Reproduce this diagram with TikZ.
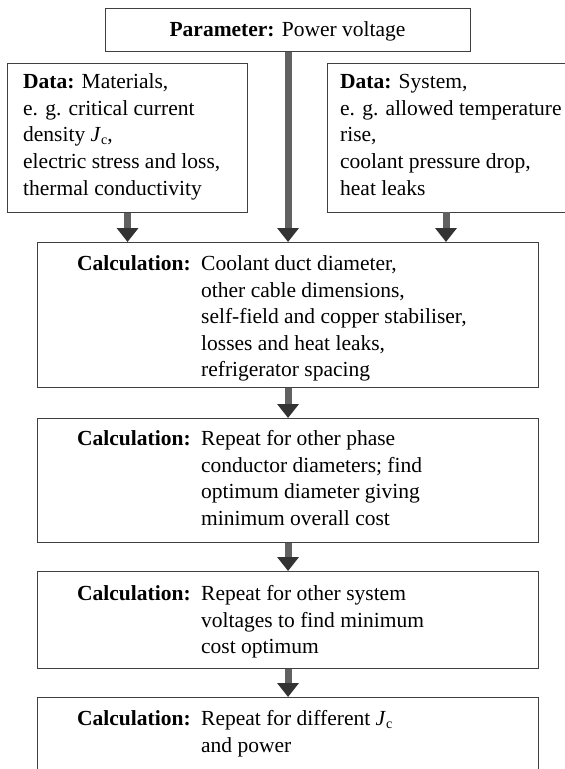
\documentclass[tikz,border=0pt]{standalone}
\usepackage{fontspec}
\setmainfont{Liberation Serif}
\usetikzlibrary{arrows.meta}
\newcommand\Jsub{\textit{J}\raisebox{-0.35ex}{\fontsize{14}{14}\selectfont c}}
\begin{document}
\begin{tikzpicture}[x=1pt,y=-1pt,
  box/.style={draw=black!75, line width=1.1pt, rectangle, inner sep=0pt, anchor=north west},
  txt/.style={anchor=base west, inner sep=0pt, font=\fontsize{21.5}{26.7}\selectfont},
  flow/.style={line width=7pt, draw=black!62, -{Triangle[width=21pt,length=14pt,color=black!80]}}
]
\useasboundingbox (0,0) rectangle (565,769);
\fill[white] (0,0) rectangle (565,769);
\begin{scope}
\clip (0,0) rectangle (565,769);
% boxes
\node[box, minimum width=365pt, minimum height=43pt] (par) at (105,8) {};
\node[box, minimum width=240pt, minimum height=149pt] (dl) at (7,63) {};
\node[box, minimum width=260pt, minimum height=149pt] (dr) at (327,63) {};
\node[box, minimum width=501pt, minimum height=145pt] (c1) at (37,242) {};
\node[box, minimum width=501pt, minimum height=124pt] (c2) at (37,418) {};
\node[box, minimum width=501pt, minimum height=97pt] (c3) at (37,571) {};
\node[box, minimum width=501pt, minimum height=100pt] (c4) at (37,697) {};
% texts
\node[txt, anchor=base] (ptxt) at (287.5,36.5) {\textbf{Parameter:} Power voltage};

\node[txt] (dl1) at (23,88) {\textbf{Data:} Materials,};
\node[txt] (dl2) at (23,115) {e. g. critical current};
\node[txt] (dl3) at (23,141) {density \Jsub,};
\node[txt] (dl4) at (23,168) {electric stress and loss,};
\node[txt] (dl5) at (23,195) {thermal conductivity};

\node[txt] (dr1) at (340,88) {\textbf{Data:} System,};
\node[txt] (dr2) at (340,115) {e. g. allowed temperature};
\node[txt] (dr3) at (340,141) {rise,};
\node[txt] (dr4) at (340,168) {coolant pressure drop,};
\node[txt] (dr5) at (340,195) {heat leaks};

\node[txt] (c1h) at (77,270) {\textbf{Calculation:}};
\node[txt] (c1a) at (201,270) {Coolant duct diameter,};
\node[txt] (c1b) at (201,297) {other cable dimensions,};
\node[txt] (c1c) at (201,323) {self-field and copper stabiliser,};
\node[txt] (c1d) at (201,350) {losses and heat leaks,};
\node[txt] (c1e) at (201,376) {refrigerator spacing};

\node[txt] (c2h) at (77,445) {\textbf{Calculation:}};
\node[txt] (c2a) at (201,445) {Repeat for other phase};
\node[txt] (c2b) at (201,472) {conductor diameters; find};
\node[txt] (c2c) at (201,498) {optimum diameter giving};
\node[txt] (c2d) at (201,525) {minimum overall cost};

\node[txt] (c3h) at (77,600) {\textbf{Calculation:}};
\node[txt] (c3a) at (201,600) {Repeat for other system};
\node[txt] (c3b) at (201,627) {voltages to find minimum};
\node[txt] (c3c) at (201,653) {cost optimum};

\node[txt] (c4h) at (77,725) {\textbf{Calculation:}};
\node[txt] (c4a) at (201,725) {Repeat for different \Jsub};
\node[txt] (c4b) at (201,752) {and power};
% arrows
\coordinate (rs) at (446,212);
\draw[flow] (dl.south) -- (dl.south |- c1.north);
\draw[flow] (par.south) -- (c1.north);
\draw[flow] (rs) -- (rs |- c1.north);
\draw[flow] (c1.south) -- (c2.north);
\draw[flow] (c2.south) -- (c3.north);
\draw[flow] (c3.south) -- (c4.north);
\end{scope}
\end{tikzpicture}
\end{document}
